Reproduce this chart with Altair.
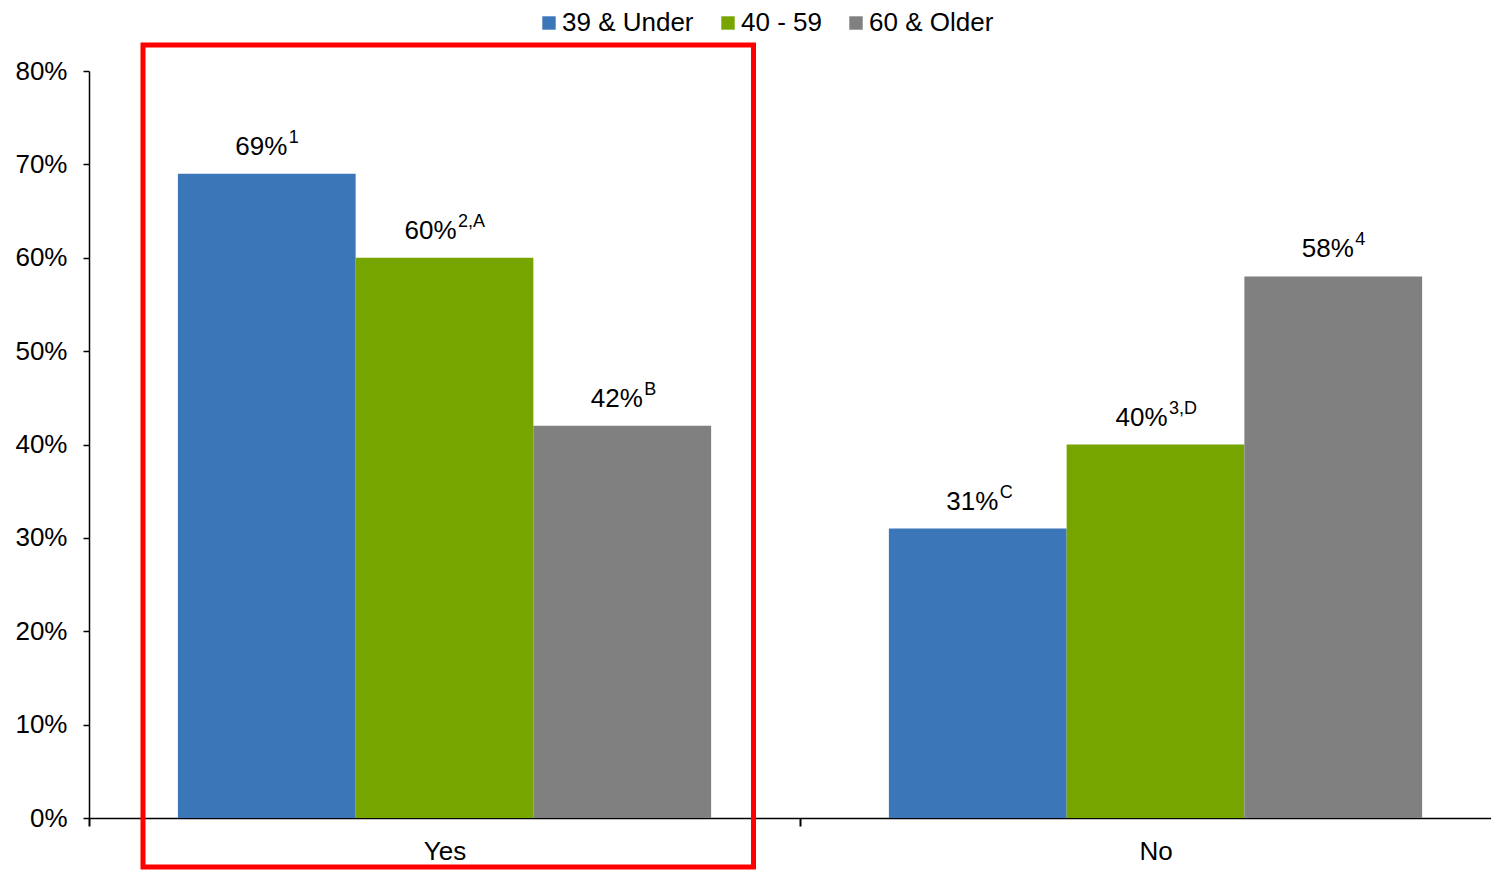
import altair as alt
import pandas as pd

answers = ["Yes", "No"]
age_groups = ["39 & Under", "40 - 59", "60 & Older"]
yes_values = [0.69, 0.60, 0.42]
no_values = [0.31, 0.40, 0.58]
yes_notes = ["1", "2,A", "B"]
no_notes = ["C", "3,D", "4"]
colors = ["#3A76B8", "#76A500", "#808080"]

rows = []
for ans, vals, notes in [("Yes", yes_values, yes_notes), ("No", no_values, no_notes)]:
    for g, v, n in zip(age_groups, vals, notes):
        rows.append({"answer": ans, "group": g, "value": v, "note": n})
df = pd.DataFrame(rows)

FONT = "Liberation Sans"

x_enc = alt.X(
    "answer:N",
    sort=answers,
    scale=alt.Scale(range=[0, 1422], paddingInner=0.25, paddingOuter=0.125),
    axis=alt.Axis(
        title=None, labelAngle=0, tickSize=8, tickWidth=2,
        tickOffset=-355.5, labelOffset=355.5,
        tickColor="black", domainColor="black", domainWidth=1.5,
        labelFont=FONT, labelFontSize=26, labelColor="black", labelPadding=12,
    ),
)
xoff = alt.XOffset("group:N", sort=age_groups)
y_enc = alt.Y(
    "value:Q",
    scale=alt.Scale(domain=[0, 0.8], nice=False),
    axis=alt.Axis(
        title=None, format=".0%", values=[0, 0.1, 0.2, 0.3, 0.4, 0.5, 0.6, 0.7, 0.8],
        tickSize=6, tickWidth=1.5, tickColor="black", domainColor="black", domainWidth=1.5,
        labelFont=FONT, labelFontSize=26, labelColor="black", labelPadding=16, grid=False,
    ),
)

base = alt.Chart(df).encode(x=x_enc, xOffset=xoff, y=y_enc)

bars = base.mark_bar().encode(
    color=alt.Color(
        "group:N", sort=age_groups,
        scale=alt.Scale(domain=age_groups, range=colors),
        legend=alt.Legend(
            title=None, orient="none", direction="horizontal",
            legendX=447, legendY=-61, symbolType="square", symbolSize=180,
            symbolStrokeWidth=0, labelFont=FONT, labelFontSize=26, labelColor="black",
            labelOffset=0, columnPadding=21, padding=0,
        ),
    )
)

short = base.transform_filter("length(datum.note) <= 1")
long_ = base.transform_filter("length(datum.note) > 1")

main_short = short.mark_text(font=FONT, fontSize=26, color="black", dy=-19, dx=-5.5,
                             baseline="alphabetic", align="center").encode(
    text=alt.Text("value:Q", format=".0%"))
sup_short = short.mark_text(font=FONT, fontSize=18, color="black", dy=-31, dx=22,
                            baseline="alphabetic", align="left").encode(text="note:N")
main_long = long_.mark_text(font=FONT, fontSize=26, color="black", dy=-19, dx=-14,
                            baseline="alphabetic", align="center").encode(
    text=alt.Text("value:Q", format=".0%"))
sup_long = long_.mark_text(font=FONT, fontSize=18, color="black", dy=-31, dx=13.5,
                           baseline="alphabetic", align="left").encode(text="note:N")

box = alt.Chart(pd.DataFrame({"k": [0]})).mark_rect(
    filled=False, stroke="#FF0000", strokeWidth=5
).encode(x=alt.value(54), x2=alt.value(664.5), y=alt.value(-26), y2=alt.value(796))

chart = alt.layer(bars, main_short, sup_short, main_long, sup_long, box).properties(
    width=1402, height=747,
    padding={"left": 81, "top": 63, "right": 0, "bottom": 52},
    autosize=alt.AutoSizeParams(type="none"),
).configure_view(strokeWidth=0)

chart.save("out.html", embed_options={"renderer": "svg", "actions": False})
